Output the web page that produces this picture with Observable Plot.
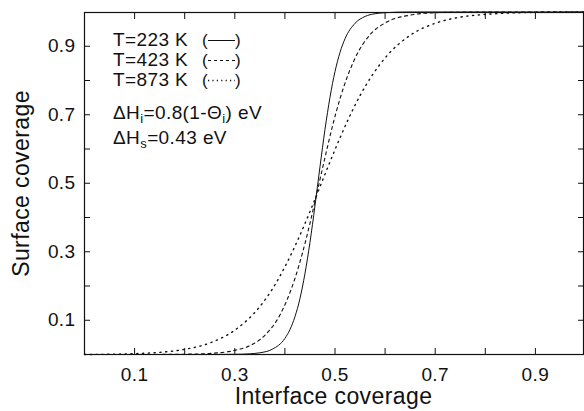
<!DOCTYPE html>
<html><head><meta charset="utf-8">
<script src="https://cdn.jsdelivr.net/npm/d3@7"></script>
<script src="https://cdn.jsdelivr.net/npm/@observablehq/plot@0.6"></script>
<style>
body{margin:0;background:#fff}
svg{display:block}
#chart svg text{letter-spacing:0.4px}
</style>
</head><body><div id="chart"></div>
<script>
// Interface coverage (x) and surface coverage (y)
const thetaI_223 = [0, 0.1, 0.2, 0.25, 0.3, 0.33, 0.35, 0.375, 0.40, 0.41, 0.42, 0.43, 0.44, 0.45, 0.46, 0.47, 0.48, 0.49, 0.50, 0.51, 0.52, 0.54, 0.56, 0.58, 0.60, 0.65, 0.7, 0.8, 0.9, 1.0];
const thetaS_223 = [0, 0, 0, 0, 0.0005, 0.002, 0.005, 0.0155, 0.047, 0.0725, 0.110, 0.163, 0.236, 0.327, 0.434, 0.548, 0.657, 0.751, 0.826, 0.882, 0.922, 0.967, 0.987, 0.995, 0.998, 1.0, 1.0, 1.0, 1.0, 1.0];

const thetaI_423 = [0, 0.1, 0.15, 0.2, 0.25, 0.3, 0.33, 0.36, 0.39, 0.405, 0.42, 0.435, 0.45, 0.465, 0.48, 0.495, 0.51, 0.54, 0.57, 0.60, 0.65, 0.70, 0.75, 0.8, 0.9, 1.0];
const thetaS_423 = [0, 0, 0.0002, 0.0008, 0.0031, 0.012, 0.026, 0.056, 0.115, 0.162, 0.222, 0.296, 0.383, 0.479, 0.575, 0.667, 0.747, 0.865, 0.934, 0.968, 0.991, 0.998, 0.9994, 1.0, 1.0, 1.0];

const thetaI_873 = [0, 0.05, 0.10, 0.15, 0.20, 0.25, 0.30, 0.35, 0.375, 0.40, 0.425, 0.45, 0.475, 0.50, 0.525, 0.55, 0.60, 0.65, 0.70, 0.75, 0.80, 0.85, 0.90, 0.95, 1.0];
const thetaS_873 = [0, 0.0007, 0.0024, 0.0063, 0.0151, 0.0336, 0.071, 0.140, 0.191, 0.256, 0.332, 0.417, 0.508, 0.598, 0.682, 0.756, 0.866, 0.932, 0.967, 0.985, 0.993, 0.997, 0.999, 1.0, 1.0];

const tickLabels = [0.1, 0.3, 0.5, 0.7, 0.9];
const allTicks = [0.1, 0.2, 0.3, 0.4, 0.5, 0.6, 0.7, 0.8, 0.9];
const legendLabels = ["T=223 K", "T=423 K", "T=873 K"];
const xTitle = "Interface coverage";
const yTitle = "Surface coverage";

const toRows = (xs, ys) => xs.map((x, i) => ({x, y: ys[i]}));
const s223 = toRows(thetaI_223, thetaS_223);
const s423 = toRows(thetaI_423, thetaS_423);
const s873 = toRows(thetaI_873, thetaS_873);

const FONT = "Liberation Sans, Arial, Helvetica, sans-serif";
const INK = "#111";

const plot = Plot.plot({
  width: 584, height: 411,
  marginLeft: 84, marginRight: 1, marginTop: 12, marginBottom: 57,
  x: {domain: [0, 1], range: [84, 585]},
  y: {domain: [0, 1], range: [354, 11.5]},
  style: {fontFamily: FONT, fontSize: "19px", color: INK, background: "#fff"},
  marks: [
    Plot.line(s223, {x: "x", y: "y", curve: "monotone-x", stroke: INK, strokeWidth: 1}),
    Plot.line(s423, {x: "x", y: "y", curve: "monotone-x", stroke: INK, strokeWidth: 1.1, strokeDasharray: "3,3.5"}),
    Plot.line(s873, {x: "x", y: "y", curve: "monotone-x", stroke: INK, strokeWidth: 1.4, strokeDasharray: "1.2,4.6"}),
    Plot.frame({stroke: INK, strokeWidth: 1.2}),
    Plot.axisX({ticks: allTicks, tickSize: -6, fill: "none", label: null, stroke: INK}),
    Plot.axisX({anchor: "top", ticks: allTicks, tickSize: -6, fill: "none", label: null, stroke: INK}),
    Plot.axisY({ticks: allTicks, tickSize: -6, fill: "none", label: null, stroke: INK}),
    Plot.axisY({anchor: "right", ticks: allTicks, tickSize: -6, fill: "none", label: null, stroke: INK}),
    Plot.axisX({ticks: tickLabels, tickSize: 0, tickPadding: 13, label: null, tickFormat: d3.format(".1f"), fill: INK}),
    Plot.axisY({ticks: tickLabels, tickSize: 0, tickPadding: 9, label: null, tickFormat: d3.format(".1f"), fill: INK})
  ]
});

const svg = d3.select(plot);
const g = svg.append("g").attr("font-family", FONT).attr("fill", INK).attr("text-anchor", "start");

// axis titles
g.append("text").attr("x", 333.5).attr("y", 404).attr("text-anchor", "middle")
  .attr("font-size", 23).text(xTitle);
g.append("text").attr("transform", "translate(29,183.5) rotate(-90)").attr("text-anchor", "middle")
  .attr("font-size", 23).text(yTitle);

// legend
const dashes = [null, "3,3", "1.2,3.2"];
legendLabels.forEach((t, i) => {
  const y = 46 + i * 20;
  g.append("text").attr("x", 113).attr("y", y).attr("font-size", 19).text(t);
  g.append("text").attr("x", 202).attr("y", y).attr("font-size", 17).text("(");
  g.append("text").attr("x", 235).attr("y", y).attr("font-size", 17).text(")");
  g.append("line").attr("x1", 208).attr("x2", 235).attr("y1", y - 5.5).attr("y2", y - 5.5)
    .attr("stroke", INK).attr("stroke-width", i === 2 ? 1.3 : 1)
    .attr("stroke-dasharray", dashes[i]);
});

// parameter annotations
const t1 = g.append("text").attr("x", 113).attr("y", 119).attr("font-size", 19);
t1.append("tspan").text("ΔH");
t1.append("tspan").attr("font-size", 13).attr("dy", 4).text("i");
t1.append("tspan").attr("dy", -4).text("=0.8(1-Θ");
t1.append("tspan").attr("font-size", 13).attr("dy", 4).text("i");
t1.append("tspan").attr("dy", -4).text(") eV");

const t2 = g.append("text").attr("x", 113).attr("y", 144).attr("font-size", 19);
t2.append("tspan").text("ΔH");
t2.append("tspan").attr("font-size", 13).attr("dy", 4).text("s");
t2.append("tspan").attr("dy", -4).text("=0.43 eV");

document.getElementById("chart").appendChild(plot);
</script>
</body></html>
